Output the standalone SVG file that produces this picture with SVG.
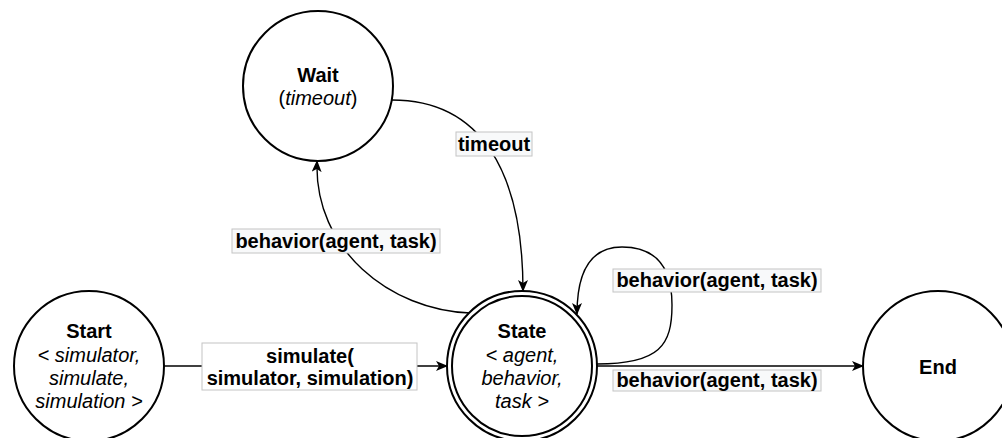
<svg xmlns="http://www.w3.org/2000/svg" width="1002" height="438" viewBox="0 0 1002 438">
<defs>
<style>
.node{fill:#fff;stroke:#000;stroke-width:2}
.edge{fill:none;stroke:#000;stroke-width:1.4}
.t{font-family:"Liberation Sans",Arial,sans-serif;font-size:20px;fill:#000;text-anchor:middle}
.b{font-weight:bold}
.i{font-style:italic}
.lbl{fill:#f8f9fa;stroke:#c4c4c4;stroke-width:1}
</style>
<marker id="arr" viewBox="0 0 12 10" refX="11" refY="5" markerWidth="12" markerHeight="10" markerUnits="userSpaceOnUse" orient="auto">
<path d="M0,0 L12,5 L0,10 L3,5 Z" fill="#000"/>
</marker>
</defs>
<g id="connectors">
<path class="edge" d="M163,366 L447,366" marker-end="url(#arr)"/>
<path class="edge" d="M597,366 L863,366" marker-end="url(#arr)"/>
<path class="edge" d="M597,364 C660,364 672,345 672,305 C672,262 652,247 622,247 C592,247 577,270 577,314" marker-end="url(#arr)"/>
<path class="edge" d="M392,100 C480,100 523,170 523,291" marker-end="url(#arr)"/>
<path class="edge" d="M470,313 C390,310 314,250 317,161" marker-end="url(#arr)"/>
<g id="label-simulate">
<rect x="202" y="343" width="215" height="47" fill="#fff" stroke="#c4c4c4" stroke-width="1"/>
<text class="t b" x="310" y="363">simulate(</text>
<text class="t b" x="310" y="385">simulator, simulation)</text>
</g>
<g id="label-wait">
<rect class="lbl" x="232" y="229" width="208" height="24"/>
<text class="t b" x="336" y="248">behavior(agent, task)</text>
</g>
<g id="label-timeout">
<rect class="lbl" x="456" y="132" width="76" height="24"/>
<text class="t b" x="494" y="151">timeout</text>
</g>
<g id="label-loop">
<rect class="lbl" x="613" y="269" width="208" height="23"/>
<text class="t b" x="717" y="287">behavior(agent, task)</text>
</g>
<g id="label-end">
<rect class="lbl" x="613" y="370" width="208" height="21"/>
<text class="t b" x="717" y="387">behavior(agent, task)</text>
</g>
</g>
<g id="wait">
<circle class="node" cx="318" cy="86" r="75"/>
<text class="t b" x="318" y="82">Wait</text>
<text class="t" x="318" y="105">(<tspan class="i">timeout</tspan>)</text>
</g>
<g id="start">
<circle class="node" cx="89" cy="366" r="75"/>
<text class="t b" x="89" y="338">Start</text>
<text class="t i" x="89" y="362">&lt; simulator,</text>
<text class="t i" x="89" y="385">simulate,</text>
<text class="t i" x="89" y="408">simulation &gt;</text>
</g>
<g id="state">
<circle class="node" cx="522" cy="366" r="75"/>
<circle class="node" cx="522" cy="366" r="70"/>
<text class="t b" x="522" y="338">State</text>
<text class="t i" x="522" y="362">&lt; agent,</text>
<text class="t i" x="522" y="385">behavior,</text>
<text class="t i" x="522" y="408">task &gt;</text>
</g>
<g id="end">
<circle class="node" cx="938" cy="366" r="75"/>
<text class="t b" x="938" y="374">End</text>
</g>
</svg>
